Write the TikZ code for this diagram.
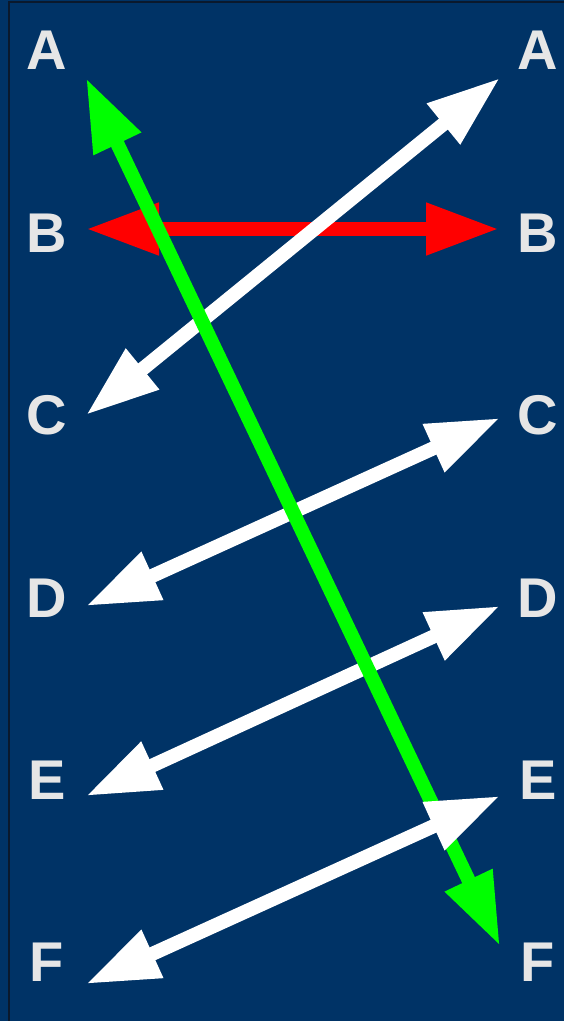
\documentclass[tikz,border=0pt]{standalone}
\usepackage{fontspec}
\setmainfont{Liberation Sans}
\usetikzlibrary{arrows.meta}
\definecolor{bg}{RGB}{0,51,102}
\definecolor{edge}{RGB}{10,25,45}
\definecolor{lbl}{RGB}{230,230,230}
\definecolor{grn}{RGB}{0,255,0}
\begin{document}
\begin{tikzpicture}[x=1pt,y=-1pt,
  letter/.style={text=lbl,font=\bfseries\fontsize{56}{56}\selectfont,inner sep=0pt,anchor=center},
  dbl/.style={line width=14pt,{Triangle[length=73pt,width=49pt]}-{Triangle[length=73pt,width=49pt]}},
]
\useasboundingbox (0,0) rectangle (564,1021);
\fill[bg] (0,0) rectangle (564,1021);
\draw[edge,line width=2pt] (9,1021) -- (9,2) -- (564,2);
% labels
\node[letter] (lA) at (47,50) {A};
\node[letter] (lB) at (47,233) {B};
\node[letter] (lC) at (47,415) {C};
\node[letter] (lD) at (47,598) {D};
\node[letter] (lE) at (47,780) {E};
\node[letter] (lF) at (47,962) {F};
\node[letter] (rA) at (538,50) {A};
\node[letter] (rB) at (538,233) {B};
\node[letter] (rC) at (538,415) {C};
\node[letter] (rD) at (538,598) {D};
\node[letter] (rE) at (538,780) {E};
\node[letter] (rF) at (538,962) {F};
% endpoints
\coordinate (pAl) at (86,78);
\coordinate (pBl) at (86,229);
\coordinate (pCl) at (86,415);
\coordinate (pDl) at (86,606);
\coordinate (pEl) at (86,796);
\coordinate (pFl) at (86,984);
\coordinate (qA) at (500,78);
\coordinate (qB) at (499,229);
\coordinate (qC) at (500,418);
\coordinate (qD) at (500,606);
\coordinate (qE) at (500,796);
\coordinate (qF) at (500,946);
% arrows
\draw[dbl,red] (pBl) -- (qB);
\draw[dbl,white] (qA) -- (pCl);
\draw[dbl,white] (qC) -- (pDl);
\draw[dbl,white] (qD) -- (pEl);
\draw[dbl,grn] (pAl) -- (qF);
\draw[dbl,white] (qE) -- (pFl);
\end{tikzpicture}
\end{document}
